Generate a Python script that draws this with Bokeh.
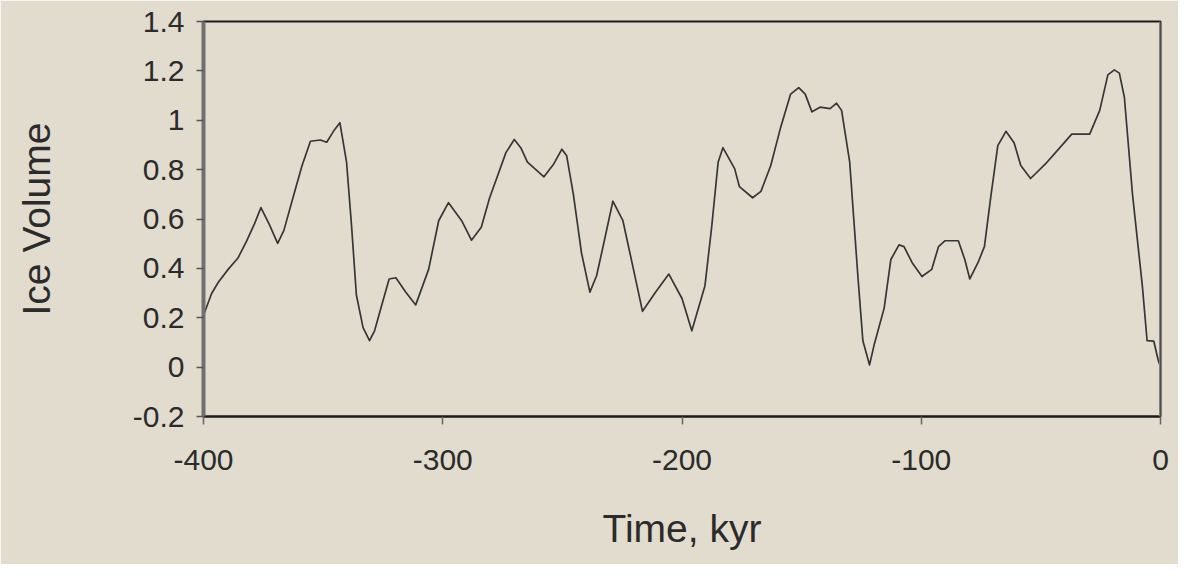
from bokeh.plotting import figure
from bokeh.models import (Range1d, FixedTicker, NumeralTickFormatter, Span)
from bokeh.embed import file_html
from bokeh.resources import INLINE

# Time (kyr) and ice volume
time_kyr = [-400, -396.6, -393.8, -389.7, -385.6, -382.1, -378.7, -376, -372.6, -369,
            -366.4, -362.2, -358.8, -355.3, -351.2, -348.5, -345.7, -343, -340.2, -338.1,
            -336.1, -333.3, -330.6, -328.5, -325.1, -322.4, -319.6, -315.5, -311.3, -305.9,
            -301.7, -297.6, -292.1, -288, -283.9, -280.4, -277, -273.6, -270.1, -267.4,
            -264.6, -257.7, -253.6, -250.2, -248.2, -245.4, -242.0, -238.5, -235.7, -233,
            -228.9, -224.7, -220.6, -216.5, -211, -205.5, -200, -195.9, -190.4, -187.6,
            -184.9, -182.9, -178, -176, -170.5, -167, -162.9, -158.8, -154.6, -151.2,
            -148.5, -145.7, -142.3, -138.1, -135.4, -133.3, -129.9, -126.5, -124.4, -121.6,
            -119.6, -115.5, -112.7, -109.3, -107.2, -103.8, -99.7, -95.6, -92.8, -90.0,
            -84.5, -81.8, -79.7, -76.3, -73.6, -70.8, -68.0, -64.6, -61.2, -58.4,
            -54.3, -48.1, -42.6, -37.1, -29.6, -25.4, -22.0, -19.3, -17.2, -15.1,
            -11.7, -7.6, -5.6, -2.8, -1.0, -0.3]
ice_volume = [0.21, 0.298, 0.344, 0.396, 0.442, 0.508, 0.58, 0.646, 0.58, 0.501,
              0.554, 0.70, 0.817, 0.915, 0.92, 0.911, 0.955, 0.99, 0.83, 0.57,
              0.292, 0.16, 0.107, 0.147, 0.265, 0.357, 0.362, 0.304, 0.252, 0.396,
              0.593, 0.666, 0.593, 0.514, 0.567, 0.686, 0.777, 0.869, 0.922, 0.889,
              0.83, 0.771, 0.823, 0.883, 0.856, 0.70, 0.462, 0.304, 0.37, 0.488,
              0.672, 0.593, 0.41, 0.226, 0.304, 0.377, 0.278, 0.147, 0.33, 0.567,
              0.83, 0.889, 0.804, 0.731, 0.686, 0.712, 0.817, 0.97, 1.106, 1.132,
              1.106, 1.034, 1.053, 1.047, 1.069, 1.04, 0.83, 0.37, 0.107, 0.009,
              0.094, 0.239, 0.436, 0.495, 0.488, 0.423, 0.367, 0.396, 0.488, 0.512,
              0.512, 0.436, 0.357, 0.423, 0.488, 0.70, 0.897, 0.955, 0.909, 0.817,
              0.764, 0.823, 0.883, 0.944, 0.944, 1.04, 1.184, 1.204, 1.191, 1.093,
              0.70, 0.33, 0.107, 0.105, 0.03, 0.01]

x_ticks = [-400, -300, -200, -100, 0]
y_ticks = [-0.2, 0, 0.2, 0.4, 0.6, 0.8, 1.0, 1.2, 1.4]
x_title = "Time, kyr"
y_title = "Ice Volume"

BG = "#e2dccf"
TXT = "#2b2b2b"
FONT = "Liberation Sans"

p = figure(width=1178, height=564, output_backend="svg", toolbar_location=None,
           x_range=Range1d(-400, 0), y_range=Range1d(-0.2, 1.4),
           min_border_left=203, min_border_right=18, min_border_top=21,
           min_border_bottom=148)
p.background_fill_color = BG
p.border_fill_color = BG
p.grid.visible = False
p.outline_line_color = "#1a1a1a"
p.outline_line_width = 2

p.line(time_kyr, ice_volume, line_color="#363636", line_width=1.7, line_join="round")

# x axis
xa = p.xaxis[0]
xa.ticker = FixedTicker(ticks=x_ticks)
xa.formatter = NumeralTickFormatter(format="0")
xa.axis_line_color = "#1a1a1a"
xa.axis_line_width = 2
xa.major_tick_out = 8
xa.major_tick_in = 0
xa.major_tick_line_color = "#666666"
xa.major_tick_line_width = 1.5
xa.minor_tick_line_color = None
xa.major_label_standoff = 25
xa.major_label_text_font = FONT
xa.major_label_text_font_size = "30px"
xa.major_label_text_color = TXT
xa.axis_label = x_title
xa.axis_label_text_font = FONT
xa.axis_label_text_font_size = "39px"
xa.axis_label_text_font_style = "normal"
xa.axis_label_text_color = TXT
xa.axis_label_standoff = 34

# y axis
ya = p.yaxis[0]
ya.ticker = FixedTicker(ticks=y_ticks)
ya.formatter = NumeralTickFormatter(format="0.[0]")
ya.axis_line_color = "#707070"
ya.axis_line_width = 4
ya.major_tick_out = 7
ya.major_tick_in = 0
ya.major_tick_line_color = "#555555"
ya.major_tick_line_width = 1.5
ya.minor_tick_line_color = None
ya.major_label_standoff = 12
ya.major_label_text_font = FONT
ya.major_label_text_font_size = "30px"
ya.major_label_text_color = TXT
ya.axis_label = y_title
ya.axis_label_text_font = FONT
ya.axis_label_text_font_size = "39px"
ya.axis_label_text_font_style = "normal"
ya.axis_label_text_color = TXT
ya.axis_label_standoff = 72

# right border (gray)
p.add_layout(Span(location=0, dimension="height", line_color="#808080", line_width=3))

html = file_html(p, INLINE)
html = html.replace("<body>", '<body style="background-color:%s;">' % BG, 1)
open("out.html", "w").write(html)
